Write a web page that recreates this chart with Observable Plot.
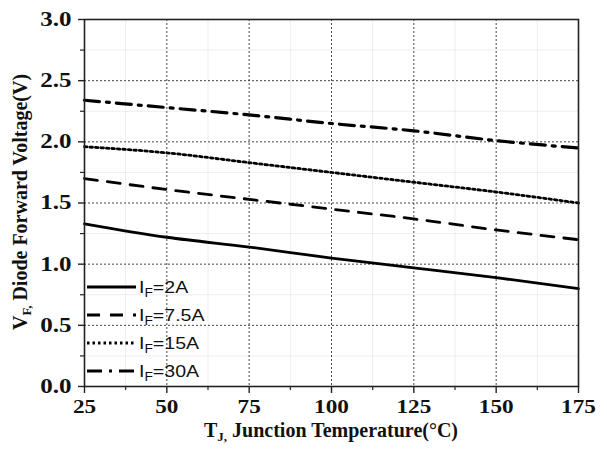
<!DOCTYPE html>
<html>
<head>
<meta charset="utf-8">
<script src="https://cdn.jsdelivr.net/npm/d3@7"></script>
<script src="https://cdn.jsdelivr.net/npm/@observablehq/plot@0.6"></script>
<style>
  html, body { margin: 0; padding: 0; background: #fff; }
  #chart { width: 607px; height: 455px; }
</style>
</head>
<body>
<div id="chart"></div>
<script>
// Junction temperature (°C) at which each forward-voltage curve is sampled
const temps = [25, 50, 75, 100, 125, 150, 175];

// Diode forward voltage V_F (V) for each forward current I_F
const vf2A   = [1.33, 1.22, 1.14, 1.05, 0.97, 0.89, 0.80];
const vf7_5A = [1.70, 1.61, 1.53, 1.45, 1.37, 1.28, 1.20];
const vf15A  = [1.96, 1.91, 1.83, 1.75, 1.67, 1.59, 1.50];
const vf30A  = [2.34, 2.28, 2.22, 2.15, 2.09, 2.01, 1.95];

const seriesNames = ["2A", "7.5A", "15A", "30A"];
const seriesValues = [vf2A, vf7_5A, vf15A, vf30A];

// Axis ticks
const xTicks = [25, 50, 75, 100, 125, 150, 175];
const yTicks = [0.0, 0.5, 1.0, 1.5, 2.0, 2.5, 3.0];
const xMinor = [37.5, 62.5, 87.5, 112.5, 137.5, 162.5];
const yMinor = [0.25, 0.75, 1.25, 1.75, 2.25, 2.75];

// Line style per series
const dashes = {"2A": null, "7.5A": "13,10", "15A": "2.5,3", "30A": "15,7,3,7"};

const rows = [];
seriesNames.forEach((name, i) => {
  temps.forEach((t, j) => rows.push({series: name, t, v: seriesValues[i][j]}));
});

const serif = "'Liberation Serif', 'Times New Roman', serif";

const chart = Plot.plot({
  width: 607,
  height: 455,
  marginLeft: 84,
  marginRight: 29,
  marginTop: 19,
  marginBottom: 69,
  x: {domain: [25, 175]},
  y: {domain: [0, 3]},
  style: {fontFamily: serif, fontWeight: "bold", color: "#111", background: "#fff"},
  marks: [
    // faint minor grid
    Plot.gridX(xMinor, {stroke: "#000", strokeOpacity: 0.07, strokeWidth: 1}),
    Plot.gridY(yMinor, {stroke: "#000", strokeOpacity: 0.07, strokeWidth: 1}),
    // dotted major grid
    Plot.gridX(xTicks.slice(1, -1), {stroke: "#333", strokeOpacity: 0.9, strokeWidth: 1, strokeDasharray: "2,2"}),
    Plot.gridY(yTicks.slice(1, -1), {stroke: "#333", strokeOpacity: 0.9, strokeWidth: 1, strokeDasharray: "2,2"}),
    // curves
    ...seriesNames.map(name => Plot.line(rows.filter(d => d.series === name), {
      x: "t", y: "v", stroke: "#000",
      strokeWidth: name === "30A" ? 3.2 : 2.8,
      strokeDasharray: dashes[name],
      curve: "monotone-x"
    })),
    Plot.frame({stroke: "#222", strokeWidth: 1.6}),
    // major ticks and labels
    Plot.axisX(xTicks, {tickSize: 7, tickPadding: 6, label: null, stroke: "#222", strokeWidth: 1.4,
      fontSize: 19, fontWeight: "bold", tickFormat: d => d}),
    Plot.axisY(yTicks, {tickSize: 6, tickPadding: 7, label: null, stroke: "#222", strokeWidth: 1.4,
      fontSize: 20, fontWeight: "bold", tickFormat: d => d.toFixed(1)}),
    // minor ticks
    Plot.axisX(xMinor, {tickSize: 4, label: null, stroke: "#222", strokeWidth: 1.2, tickFormat: () => ""}),
    Plot.axisY(yMinor, {tickSize: 4, label: null, stroke: "#222", strokeWidth: 1.2, tickFormat: () => ""})
  ]
});

document.getElementById("chart").appendChild(chart);

const svg = d3.select(chart);

// Widen glyphs horizontally by a factor k, keeping the anchor in place
function widen(selection, k) {
  selection.each(function () {
    const w = this.getComputedTextLength();
    if (w > 0) {
      this.setAttribute("textLength", (w * k).toFixed(1));
      this.setAttribute("lengthAdjust", "spacingAndGlyphs");
    }
  });
}

widen(svg.selectAll("g[aria-label='x-axis tick label'] text"), 1.22);
widen(svg.selectAll("g[aria-label='y-axis tick label'] text"), 1.25);

// Axis titles with subscripts
const xTitle = svg.append("text")
  .attr("x", 331).attr("y", 437)
  .attr("text-anchor", "middle")
  .style("font-family", serif).style("font-size", "20px").style("font-weight", "bold").attr("fill", "#111");
xTitle.append("tspan").text("T");
xTitle.append("tspan").attr("font-size", "13px").attr("dy", "4").text("J,");
xTitle.append("tspan").attr("dy", "-4").text(" Junction Temperature(°C)");

const yTitle = svg.append("text")
  .attr("transform", "translate(27,202) rotate(-90)")
  .attr("text-anchor", "middle")
  .style("font-family", serif).style("font-size", "20px").style("font-weight", "bold").attr("fill", "#111");
yTitle.append("tspan").text("V");
yTitle.append("tspan").attr("font-size", "13px").attr("dy", "4").text("F,");
yTitle.append("tspan").attr("dy", "-4").text(" Diode Forward Voltage(V)");

// Legend inside the lower-left of the plot
const legend = svg.append("g")
  .attr("text-anchor", "start")
  .style("font-family", "'Liberation Sans', Arial, sans-serif")
  .style("font-weight", "normal");
seriesNames.forEach((name, i) => {
  const cy = 287 + i * 28;
  legend.append("line")
    .attr("x1", 87).attr("x2", 136).attr("y1", cy).attr("y2", cy)
    .attr("stroke", "#000")
    .attr("stroke-width", name === "30A" ? 3.2 : 2.8)
    .attr("stroke-dasharray", dashes[name]);
  const t = legend.append("text")
    .attr("x", 139).attr("y", cy + 6)
    .attr("text-anchor", "start")
    .attr("font-size", "17px").attr("fill", "#111");
  t.append("tspan").text("I");
  t.append("tspan").attr("font-size", "12px").attr("dy", "4").text("F");
  t.append("tspan").attr("dy", "-4").text("=" + name);
  widen(t, 1.15);
});
</script>
</body>
</html>
